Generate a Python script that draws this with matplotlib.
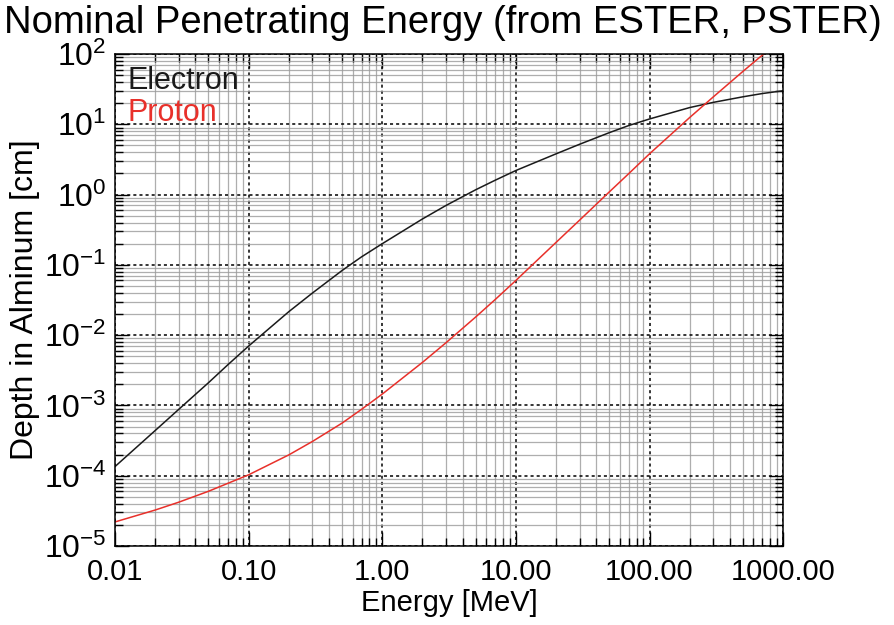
import numpy as np
import matplotlib
matplotlib.use("Agg")
import matplotlib.pyplot as plt
from matplotlib.ticker import LogLocator, FixedLocator, FuncFormatter, NullFormatter

# Energy grid [MeV] and penetration depth in aluminum [cm]
energy = [0.01, 0.02, 0.03, 0.05, 0.07, 0.1, 0.2, 0.3, 0.5, 0.7,
          1, 2, 3, 5, 7, 10, 20, 30, 50, 70,
          100, 200, 300, 500, 700, 1000]
electron = [1.35e-4, 4.4e-4, 8.8e-4, 2.1e-3, 3.8e-3, 7.0e-3, 2.16e-2, 3.97e-2, 8.3e-2, 0.13,
            0.20, 0.45, 0.70, 1.17, 1.6, 2.2, 3.8, 5.2, 7.6, 9.6,
            11.9, 17.3, 20.5, 24.6, 27.4, 30.0]
proton = [2.2e-5, 3.25e-5, 4.2e-5, 6.0e-5, 7.8e-5, 1.03e-4, 1.98e-4, 3.07e-4, 5.6e-4, 8.8e-4,
          1.45e-3, 4.1e-3, 7.8e-3, 0.0181, 0.0321, 0.060, 0.209, 0.433, 1.09, 1.99,
          3.8, 12.5, 24.5, 56.5, 96.7, 169.0]

x_ticks = [0.01, 0.1, 1, 10, 100, 1000]
y_ticks = [1e-5, 1e-4, 1e-3, 1e-2, 1e-1, 1e0, 1e1, 1e2]

plt.rcParams["font.family"] = ["Liberation Sans", "DejaVu Sans"]
plt.rcParams["mathtext.default"] = "regular"

RED = "#e8302a"

fig = plt.figure(figsize=(8.95, 6.25), dpi=100)
ax = fig.add_axes([0.1285, 0.1264, 0.7465, 0.7872])

ax.plot(energy, electron, color="#1a1a1a", lw=1.1, label="Electron")
ax.plot(energy, proton, color=RED, lw=1.1, label="Proton")

ax.set_xscale("log")
ax.set_yscale("log")
ax.set_xlim(0.01, 1000)
ax.set_ylim(1e-5, 1e2)

ax.xaxis.set_major_locator(FixedLocator(x_ticks))
ax.xaxis.set_major_formatter(FuncFormatter(lambda v, p: f"{v:.2f}"))
ax.xaxis.set_minor_locator(LogLocator(base=10, subs=np.arange(2, 10), numticks=20))
ax.xaxis.set_minor_formatter(NullFormatter())
ax.yaxis.set_major_locator(FixedLocator(y_ticks))
ax.yaxis.set_minor_locator(LogLocator(base=10, subs=np.arange(2, 10), numticks=20))
ax.yaxis.set_minor_formatter(NullFormatter())

ax.grid(True, which="minor", color="#9a9a9a", lw=0.9, ls="-", alpha=0.8)
ax.grid(True, which="major", color="black", lw=1.1, ls=(0, (2, 2)))
ax.set_axisbelow(True)

ax.tick_params(which="both", direction="in", top=True, right=True, pad=8)
ax.tick_params(axis="x", labelsize=21, pad=9)
ax.tick_params(axis="y", labelsize=23, pad=6)
ax.tick_params(which="major", length=10, width=1)
ax.tick_params(which="minor", length=6, width=1)
for lbl in ax.get_yticklabels():
    lbl.set_verticalalignment("center_baseline")
for s in ax.spines.values():
    s.set_linewidth(1.1)

ax.set_xlabel("Energy [MeV]", fontsize=21, labelpad=2)
ax.set_ylabel("Depth in Alminum [cm]", fontsize=23, labelpad=3)

leg = ax.legend(loc="upper left", frameon=False, handlelength=0, handletextpad=0,
                labelcolor="linecolor", fontsize=22, labelspacing=0.05,
                borderaxespad=0.3, borderpad=0.1)
for h in leg.legend_handles:
    h.set_visible(False)

fig.text(0.004, 0.963, "Nominal Penetrating Energy (from ESTER, PSTER)",
         fontsize=27.5, ha="left", va="center")

fig.savefig("out.png", dpi=100)
